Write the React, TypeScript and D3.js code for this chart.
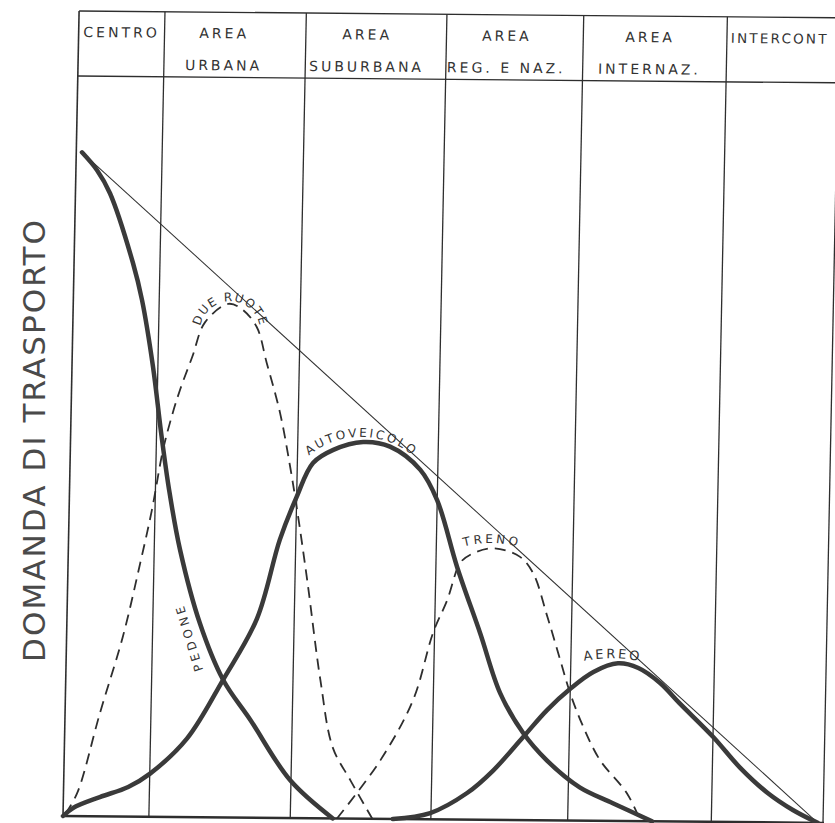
import React from 'react';
import * as d3 from 'd3';

const W = 835;
const H = 823;

// zone boundaries along the horizontal axis (0..100 = full plot width)
const zoneBounds = [0, 11.3, 29.9, 48.4, 66.4, 85.3, 100];
const headerTop = ['CENTRO', 'AREA', 'AREA', 'AREA', 'AREA', 'INTERCONT'];
const headerBottom = ['', 'URBANA', 'SUBURBANA', 'REG. E NAZ.', 'INTERNAZ.', ''];
const headerShift = [0, -11, -9, -8, -5, 0];

// demand curves (x: position along territory, y: transport demand, 0..100)
const pedoneX = [0.75, 2.78, 4.54, 7.75, 9.04, 10.66, 11.9, 13.1, 14.7, 17.5, 20.7, 24.4, 29.8, 35.5];
const pedoneY = [89.7, 87.3, 84.2, 74.8, 69.8, 60.8, 51.9, 44.2, 36.1, 26.2, 18.6, 13.2, 5.1, 0];

const dueRuoteX = [0.3, 1.8, 4.6, 7.4, 9.5, 10.9, 12.2, 13.3, 14.3, 15.8, 17.4, 20.4, 22.2, 24.2, 25.6, 27.5, 28.9, 30.0, 31.5, 33.5, 35.3, 37.7, 40.7];
const dueRuoteY = [0.3, 3.1, 14.0, 24.3, 34.3, 41.5, 49.6, 54.3, 57.8, 62.2, 66.9, 69.4, 68.7, 66.3, 61.5, 54.7, 47.8, 41.6, 32.2, 18.7, 9.6, 5.2, 0];

const autoX = [0, 1.3, 4.8, 8.5, 11.3, 16.1, 20.7, 25.0, 27.8, 29.9, 31.96, 34.6, 38.5, 42.05, 46.1, 48.4, 51.2, 54.4, 57.2, 60.3, 63.5, 67.9, 72.3, 77.5];
const autoY = [0, 1.1, 2.6, 4.0, 5.8, 10.6, 18.6, 26.9, 37.6, 43.4, 48.0, 49.8, 50.9, 50.3, 47.2, 43.1, 34.1, 25.2, 17.1, 11.8, 8.1, 4.5, 2.4, 0];

const trenoX = [36.05, 41.6, 45.75, 48.2, 49.96, 51.6, 52.9, 55.9, 59.4, 61.2, 63.2, 65.0, 66.4, 68.2, 70.5, 74.1, 76.0];
const trenoY = [0, 7.9, 16.1, 25.2, 29.6, 34.7, 35.8, 36.7, 35.6, 33.4, 27.5, 21.7, 17.2, 12.7, 8.2, 3.8, 0];

const aereoX = [43.4, 48.3, 53.1, 56.5, 60.3, 63.4, 66.4, 69.4, 72.6, 75.3, 78.2, 80.8, 85.3, 88.9, 92.6, 96.0, 99.3];
const aereoY = [0, 0.85, 3.6, 6.7, 11.2, 14.9, 17.8, 20.1, 21.3, 20.7, 18.7, 16.0, 11.5, 7.4, 4.0, 1.7, 0];

const envelopeX = [0.75, 99.3];
const envelopeY = [89.7, 0];

// curve labels: arc centre (data units), arc radius (px)
const arcLabels = [
  { id: 'lbl-due', text: 'DUE RUOTE', cx: 20.7, cy: 65.7, r: 30, size: 12, ls: 1.5 },
  { id: 'lbl-auto', text: 'AUTOVEICOLO', cx: 38.3, cy: 40.5, r: 82, size: 12, ls: 2.5 },
  { id: 'lbl-treno', text: 'TRENO', cx: 55.7, cy: 23.9, r: 100, size: 12, ls: 3 },
  { id: 'lbl-aereo', text: 'AEREO', cx: 71.9, cy: 1.7, r: 150, size: 13, ls: 2.6 },
];
const pedoneLabel = { text: 'PEDONE', x: 16.1, y: 24.3, angle: -108 };

const yTitle = 'DOMANDA DI TRASPORTO';

const zip = (xs: number[], ys: number[]) => xs.map((v, i) => [v, ys[i]] as [number, number]);

export default function App() {
  const x = d3.scaleLinear().domain([0, 100]).range([63, 823]);
  const y = d3.scaleLinear().domain([0, 100]).range([816, 76]);
  const topY = 11;
  const row1 = 37;
  const row2 = 69;

  const line = d3
    .line<[number, number]>()
    .x((d) => x(d[0]))
    .y((d) => y(d[1]))
    .curve(d3.curveCatmullRom.alpha(0.5));
  const straight = d3
    .line<[number, number]>()
    .x((d) => x(d[0]))
    .y((d) => y(d[1]));

  const ink = '#2e2e2e';
  const thick = '#3a3a3a';
  const font = "'DejaVu Sans', sans-serif";

  const arc = (cx: number, cy: number, r: number) =>
    `M${cx - r},${cy} A${r},${r} 0 0 1 ${cx + r},${cy}`;

  return (
    <svg
      width={W}
      height={H}
      style={{ position: 'absolute', left: 0, top: 0, background: '#fff' }}
      fontFamily={font}
    >
      <rect width={W} height={H} fill="#fff" />
      <text
        transform={`translate(45,441) rotate(-90)`}
        textAnchor="middle"
        fontSize={31}
        fill="#4a4a4a"
        textLength={442}
        lengthAdjust="spacing"
      >
        {yTitle}
      </text>
      <g transform="matrix(1,0.009,-0.02,1,16.32,-0.567)">
        {/* frame */}
        <line x1={x(0)} x2={870} y1={topY} y2={topY} stroke={ink} strokeWidth={1.4} />
        <line x1={x(0)} x2={870} y1={y(100)} y2={y(100)} stroke={ink} strokeWidth={1.4} />
        <line x1={x(0) - 1} x2={x(100) + 1} y1={y(0)} y2={y(0)} stroke={ink} strokeWidth={2.4} />
        {zoneBounds.map((b, i) => (
          <line
            key={'z' + i}
            x1={x(b)}
            x2={x(b)}
            y1={topY}
            y2={y(0)}
            stroke={ink}
            strokeWidth={i === 0 ? 1.6 : 1.3}
          />
        ))}
        {/* header */}
        {headerTop.map((t, i) => {
          const cx = (x(zoneBounds[i]) + x(zoneBounds[i + 1])) / 2 + headerShift[i];
          const isStart = t === 'INTERCONT';
          return (
            <text
              key={'h1' + i}
              x={isStart ? x(zoneBounds[i]) + 4 : cx}
              y={row1}
              textAnchor={isStart ? 'start' : 'middle'}
              fontSize={isStart ? 13.5 : 14}
              letterSpacing={isStart ? 2.2 : 3}
              fill="#333"
            >
              {t}
            </text>
          );
        })}
        {headerBottom.map((t, i) => {
          const cx = (x(zoneBounds[i]) + x(zoneBounds[i + 1])) / 2 + headerShift[i];
          return (
            <text
              key={'h2' + i}
              x={cx}
              y={row2}
              textAnchor="middle"
              fontSize={14}
              letterSpacing={3}
              fill="#333"
            >
              {t}
            </text>
          );
        })}
        {/* envelope */}
        <path d={straight(zip(envelopeX, envelopeY)) || ''} fill="none" stroke={ink} strokeWidth={1} />
        {/* dashed curves */}
        <path
          d={line(zip(dueRuoteX, dueRuoteY)) || ''}
          fill="none"
          stroke={ink}
          strokeWidth={1.8}
          strokeDasharray="11 7"
        />
        <path
          d={line(zip(trenoX, trenoY)) || ''}
          fill="none"
          stroke={ink}
          strokeWidth={1.8}
          strokeDasharray="11 7"
        />
        {/* thick curves */}
        <path d={line(zip(pedoneX, pedoneY)) || ''} fill="none" stroke={thick} strokeWidth={4.5} strokeLinecap="round" />
        <path d={line(zip(autoX, autoY)) || ''} fill="none" stroke={thick} strokeWidth={4.5} strokeLinecap="round" />
        <path d={line(zip(aereoX, aereoY)) || ''} fill="none" stroke={thick} strokeWidth={4.5} strokeLinecap="round" />
        {/* labels */}
        <defs>
          {arcLabels.map((l) => (
            <path key={l.id} id={l.id} d={arc(x(l.cx), y(l.cy), l.r)} fill="none" />
          ))}
        </defs>
        {arcLabels.map((l) => (
          <text key={'t' + l.id} fontSize={l.size} letterSpacing={l.ls} fill="#333">
            <textPath href={'#' + l.id} startOffset="50%" textAnchor="middle">
              {l.text}
            </textPath>
          </text>
        ))}
        <text
          transform={`translate(${x(pedoneLabel.x)},${y(pedoneLabel.y)}) rotate(${pedoneLabel.angle})`}
          textAnchor="middle"
          dy="0.35em"
          fontSize={12}
          letterSpacing={3.5}
          fill="#333"
        >
          {pedoneLabel.text}
        </text>
      </g>
    </svg>
  );
}
